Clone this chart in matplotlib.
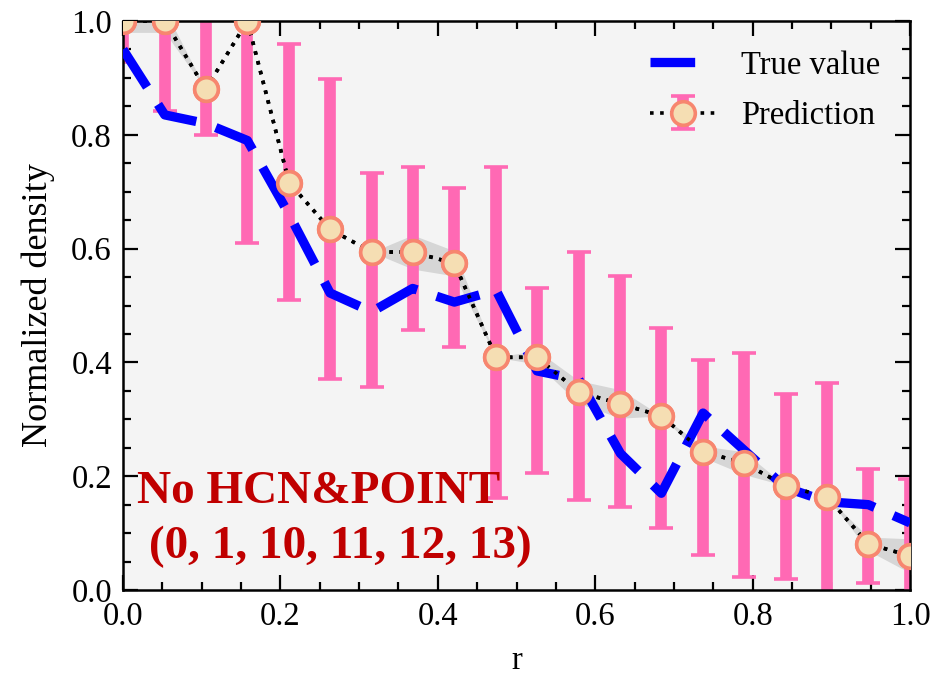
import numpy as np
import matplotlib
matplotlib.use("Agg")
import matplotlib.pyplot as plt
from matplotlib.ticker import MultipleLocator

plt.rcParams['font.family'] = ['Liberation Serif', 'DejaVu Serif']
plt.rcParams['mathtext.fontset'] = 'stix'

# ---------------- data ----------------
r = [0.000, 0.053, 0.105, 0.158, 0.211, 0.263, 0.316, 0.368, 0.421, 0.474,
     0.526, 0.579, 0.632, 0.684, 0.737, 0.789, 0.842, 0.895, 0.947, 1.000]
true_value = [0.950, 0.835, 0.820, 0.790, 0.660, 0.522, 0.489, 0.530, 0.506, 0.527,
              0.385, 0.370, 0.240, 0.170, 0.311, 0.246, 0.180, 0.155, 0.150, 0.118]
prediction = [1.000, 1.000, 0.880, 1.000, 0.716, 0.634, 0.594, 0.594, 0.574, 0.409,
              0.409, 0.348, 0.327, 0.306, 0.243, 0.223, 0.183, 0.163, 0.081, 0.060]
pred_lower = [0.928, 0.842, 0.800, 0.610, 0.510, 0.371, 0.357, 0.457, 0.427, 0.162,
              0.205, 0.158, 0.146, 0.109, 0.062, 0.023, 0.019, -0.050, 0.012, -0.050]
pred_upper = [1.100, 1.100, 1.100, 1.100, 0.960, 0.898, 0.733, 0.744, 0.706, 0.744,
              0.530, 0.594, 0.552, 0.460, 0.404, 0.416, 0.344, 0.363, 0.213, 0.195]
band_half = [0.020, 0.020, 0.000, 0.000, 0.000, 0.000, 0.000, 0.030, 0.022, 0.000,
             0.012, 0.020, 0.025, 0.000, 0.010, 0.020, 0.000, 0.000, 0.012, 0.030]
xticks = [0.0, 0.2, 0.4, 0.6, 0.8, 1.0]
yticks = [0.0, 0.2, 0.4, 0.6, 0.8, 1.0]
annotation = "No HCN&POINT\n (0, 1, 10, 11, 12, 13)"

# ---------------- plot ----------------
x = np.array(r)
t = np.array(true_value)
p = np.array(prediction)
lo = np.array(pred_lower)
hi = np.array(pred_upper)
b = np.array(band_half)

fig = plt.figure(figsize=(9.35, 6.78), dpi=100)
ax = fig.add_axes([0.1316, 0.1298, 0.8417, 0.8392])
ax.set_facecolor('#f4f4f4')

ax.fill_between(x, p - b, p + b, color='#d6d6d6', lw=0, zorder=1)

mstyle = dict(marker='o', ms=17, mfc='#f5deb3', mec='#f7866f', mew=2.6)
dot = (0, (1, 1.8))

eb = ax.errorbar(x, p, yerr=[p - lo, hi - p], ls=dot, color='black', lw=2.6,
                 ecolor='#ff69b4', elinewidth=8.4, capsize=8.6, capthick=2.9,
                 zorder=2, label='Prediction', **mstyle)

tl, = ax.plot(x, t, color='#0000ff', lw=6.7, dashes=(4.8, 2.2), zorder=3,
              label='True value')

ax.plot(x, p, ls=dot, color='black', lw=2.6, zorder=4, **mstyle)

ax.set_xlim(0, 1)
ax.set_ylim(0, 1)
ax.set_xticks(xticks)
ax.set_yticks(yticks)
ax.set_xticklabels([f"{v:.1f}" for v in xticks])
ax.set_yticklabels([f"{v:.1f}" for v in yticks])
ax.xaxis.set_minor_locator(MultipleLocator(0.05))
ax.yaxis.set_minor_locator(MultipleLocator(0.05))
ax.tick_params(which='both', direction='in', top=True, right=True,
               labelsize=23.5, width=1.6, colors='black')
ax.tick_params(which='major', length=11)
ax.tick_params(which='minor', length=6)
ax.tick_params(axis='x', pad=8)
ax.tick_params(axis='y', pad=8)
for s in ax.spines.values():
    s.set_linewidth(1.8)

ax.set_xlabel('r', fontsize=23.5, labelpad=10)
ax.set_ylabel('Normalized density', fontsize=26, labelpad=12)

ax.text(0.018, 0.056, annotation, transform=ax.transAxes, fontsize=34,
        fontweight='bold', color='#c00000', ha='left', va='baseline',
        linespacing=1.38, zorder=6)

ax.legend(handles=[tl, eb], labels=['True value', 'Prediction'], loc='upper right',
          frameon=False, fontsize=23.5, handlelength=2.0, labelspacing=0.6)

fig.savefig('out.png', dpi=100)
